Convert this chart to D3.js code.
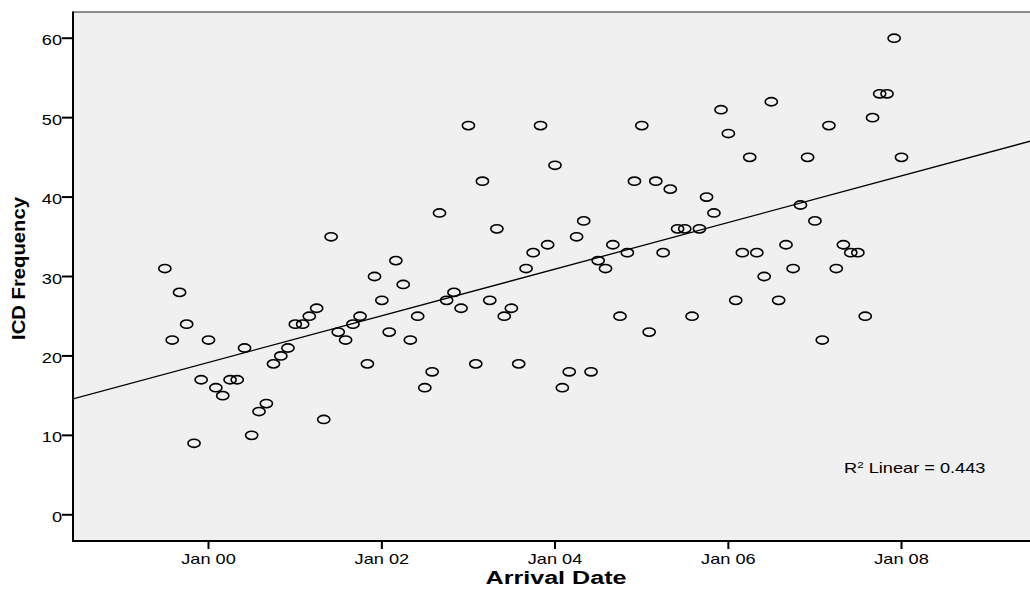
<!DOCTYPE html>
<html>
<head>
<meta charset="utf-8">
<script src="https://cdn.jsdelivr.net/npm/d3@7"></script>
<style>
	body { margin: 0; background: #fff; }
	text { font-family: "Liberation Sans", Arial, sans-serif; fill: #000; }
</style>
</head>
<body>
<script>
// monthly counts, Jul 1999 .. Jan 2008
const firstMonth = new Date(1999, 6, 1);
const lastMonth = new Date(2008, 0, 1);
const icdCounts = [
	31, 22, 28, 24, 9, 17,
	22, 16, 15, 17, 17, 21, 10, 13, 14, 19, 20, 21,
	24, 24, 25, 26, 12, 35, 23, 22, 24, 25, 19, 30,
	27, 23, 32, 29, 22, 25, 16, 18, 38, 27, 28, 26,
	49, 19, 42, 27, 36, 25, 26, 19, 31, 33, 49, 34,
	44, 16, 18, 35, 37, 18, 32, 31, 34, 25, 33, 42,
	49, 23, 42, 33, 41, 36, 36, 25, 36, 40, 38, 51,
	48, 27, 33, 45, 33, 30, 52, 27, 34, 31, 39, 45,
	37, 22, 49, 31, 34, 33, 33, 25, 50, 53, 53, 60,
	45
];
const yTicks = [0, 10, 20, 30, 40, 50, 60];
const xTickYears = [2000, 2002, 2004, 2006, 2008];

const config = {
	width: 1030,
	height: 597,
	left: 73,
	right: 1031,
	top: 12,
	bottom: 541,
	bg: "#F0F0F0",
	stretch: 1.3
};

const months = d3.timeMonth.range(firstMonth, d3.timeMonth.offset(lastMonth, 1));
const data = months.map((d, i) => ({ date: d, value: icdCounts[i] }));

// anchor the time scale on the Jan 00 / Jan 08 ticks, then widen it to the frame
const xAnchor = d3.scaleTime()
	.domain([new Date(2000, 0, 1), new Date(2008, 0, 1)])
	.range([208.5, 901.5]);
const x = d3.scaleTime()
	.domain([xAnchor.invert(config.left), xAnchor.invert(config.right)])
	.range([config.left, config.right]);
const y = d3.scaleLinear()
	.domain([-3.3, 63.3])
	.range([config.bottom, config.top]);

const svg = d3.select("body")
	.append("svg")
	.attr("width", config.width)
	.attr("height", config.height);

svg.append("rect")
	.attr("x", config.left)
	.attr("y", config.top)
	.attr("width", config.right - config.left)
	.attr("height", config.bottom - config.top)
	.attr("fill", config.bg);

svg.append("clipPath")
	.attr("id", "plot-clip")
	.append("rect")
	.attr("x", config.left)
	.attr("y", config.top)
	.attr("width", config.right - config.left)
	.attr("height", config.bottom - config.top);

// least squares fit on time
const xs = data.map(d => +d.date);
const ys = data.map(d => d.value);
const mx = d3.mean(xs), my = d3.mean(ys);
let sxy = 0, sxx = 0, syy = 0;
for (let i = 0; i < xs.length; i++) {
	sxy += (xs[i] - mx) * (ys[i] - my);
	sxx += (xs[i] - mx) ** 2;
	syy += (ys[i] - my) ** 2;
}
const slope = sxy / sxx;
const intercept = my - slope * mx;
const r2 = (sxy * sxy) / (sxx * syy);

const [d0, d1] = x.domain();
svg.append("line")
	.attr("clip-path", "url(#plot-clip)")
	.attr("x1", x(d0))
	.attr("y1", y(intercept + slope * +d0))
	.attr("x2", x(d1))
	.attr("y2", y(intercept + slope * +d1))
	.attr("stroke", "#000")
	.attr("stroke-width", 1.3);

svg.append("g")
	.attr("clip-path", "url(#plot-clip)")
	.selectAll("ellipse")
	.data(data)
	.join("ellipse")
	.attr("cx", d => x(d.date))
	.attr("cy", d => y(d.value))
	.attr("rx", 6.1)
	.attr("ry", 4.1)
	.attr("fill", "none")
	.attr("stroke", "#000")
	.attr("stroke-width", 1.6);

// frame
svg.append("line")
	.attr("x1", config.left).attr("x2", config.right)
	.attr("y1", config.top).attr("y2", config.top)
	.attr("stroke", "#222").attr("stroke-width", 1.2);
svg.append("line")
	.attr("x1", config.left).attr("x2", config.left)
	.attr("y1", config.top - 0.6).attr("y2", config.bottom + 1)
	.attr("stroke", "#000").attr("stroke-width", 2);
svg.append("line")
	.attr("x1", config.left - 1).attr("x2", config.right)
	.attr("y1", config.bottom).attr("y2", config.bottom)
	.attr("stroke", "#000").attr("stroke-width", 2);

// y ticks
const yTick = svg.append("g").selectAll("g")
	.data(yTicks)
	.join("g")
	.attr("transform", d => `translate(0,${y(d)})`);
yTick.append("line")
	.attr("x1", config.left - 11)
	.attr("x2", config.left)
	.attr("stroke", "#000")
	.attr("stroke-width", 2);
yTick.append("text")
	.attr("transform", `translate(${config.left - 11},7) scale(${config.stretch},1)`)
	.attr("text-anchor", "end")
	.attr("font-size", 14)
	.text(d => d);

// x ticks
const fmt = d3.timeFormat("Jan %y");
const xTick = svg.append("g").selectAll("g")
	.data(xTickYears.map(yr => new Date(yr, 0, 1)))
	.join("g")
	.attr("transform", d => `translate(${x(d)},0)`);
xTick.append("line")
	.attr("y1", config.bottom)
	.attr("y2", config.bottom + 8)
	.attr("stroke", "#000")
	.attr("stroke-width", 2);
xTick.append("text")
	.attr("transform", `translate(0,564) scale(${config.stretch},1)`)
	.attr("text-anchor", "middle")
	.attr("font-size", 14)
	.text(d => fmt(d));

// axis titles
svg.append("text")
	.attr("x", 556)
	.attr("y", 584)
	.attr("text-anchor", "middle")
	.attr("font-size", 18)
	.attr("font-weight", "bold")
	.attr("textLength", 141)
	.attr("lengthAdjust", "spacingAndGlyphs")
	.text("Arrival Date");

svg.append("text")
	.attr("transform", "translate(25,268.5) rotate(-90)")
	.attr("text-anchor", "middle")
	.attr("font-size", 18)
	.attr("font-weight", "bold")
	.attr("textLength", 143)
	.attr("lengthAdjust", "spacingAndGlyphs")
	.text("ICD Frequency");

// fit label
const r2Label = svg.append("text")
	.attr("transform", `translate(844,473) scale(${config.stretch},1)`)
	.attr("font-size", 14);
r2Label.append("tspan").text("R");
r2Label.append("tspan").attr("font-size", 9).attr("dy", -5).text("2");
r2Label.append("tspan").attr("dy", 5).text(" Linear = " + d3.format(".3f")(r2));
</script>
</body>
</html>
